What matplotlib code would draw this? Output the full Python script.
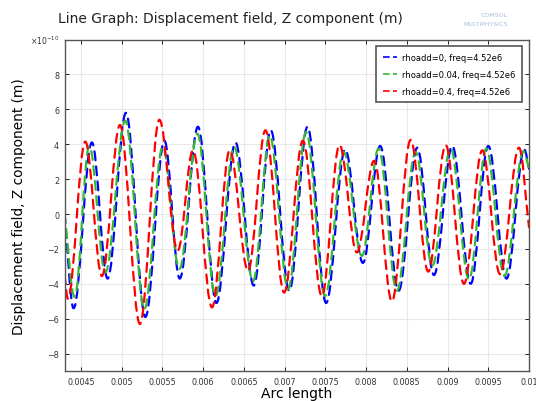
import numpy as np
import matplotlib.pyplot as plt
from matplotlib.path import Path
from matplotlib.patches import PathPatch
from matplotlib.lines import Line2D
from matplotlib.ticker import FuncFormatter

# extrema (arc length, displacement in units of 1e-10 m)
# first/last entries are where the curve meets the axes edges
x_blue = [0.0043, 0.004410, 0.004635, 0.004828, 0.005053, 0.005291, 0.005525, 0.005713,
          0.005937, 0.006163, 0.006397, 0.006622, 0.006830, 0.007058, 0.007281, 0.007510,
          0.007743, 0.007961, 0.008173, 0.008399, 0.008628, 0.008833, 0.009058, 0.009284,
          0.009500, 0.009724, 0.009942, 0.0100]
y_blue = [0.0, -5.4, 4.1, -3.7, 5.8, -5.9, 4.2, -3.7,
          5.0, -5.1, 4.1, -4.1, 4.8, -4.4, 5.0, -5.1,
          3.7, -2.8, 3.9, -4.4, 3.8, -3.5, 3.9, -4.0,
          3.9, -3.7, 3.7, 2.6]

x_green = [0.0043, 0.004423, 0.004603, 0.004800, 0.005045, 0.005279, 0.005504, 0.005709,
           0.005930, 0.006151, 0.006380, 0.006613, 0.006818, 0.007043, 0.007264, 0.007498,
           0.007724, 0.007948, 0.008154, 0.008378, 0.008608, 0.008812, 0.009038, 0.009263,
           0.009475, 0.009699, 0.009930, 0.0100]
y_green = [0.0, -4.75, 3.9, -3.35, 5.35, -5.45, 3.85, -3.15,
           4.6, -4.7, 3.85, -3.85, 4.5, -4.3, 4.7, -4.7,
           3.55, -2.4, 3.75, -4.4, 3.55, -2.95, 3.75, -3.75,
           3.75, -3.55, 3.6, 2.6]

x_red = [0.0043, 0.004340, 0.004554, 0.004758, 0.004979, 0.005225, 0.005463, 0.005688,
         0.005876, 0.006109, 0.006327, 0.006552, 0.006765, 0.006994, 0.007224, 0.007457,
         0.007674, 0.007887, 0.008099, 0.008317, 0.008547, 0.008763, 0.008977, 0.009201,
         0.009426, 0.009644, 0.009877, 0.0100]
y_red = [-3.5, -4.85, 4.15, -3.55, 5.1, -6.3, 5.4, -2.1,
         3.65, -5.35, 3.65, -3.25, 4.8, -4.5, 4.2, -4.7,
         3.95, -2.2, 3.05, -5.0, 4.25, -3.3, 3.95, -4.0,
         3.65, -3.45, 3.8, -0.76]

labels = ["rhoadd=0, freq=4.52e6", "rhoadd=0.04, freq=4.52e6", "rhoadd=0.4, freq=4.52e6"]
colors = ["#0000ff", "#35b835", "#ff0000"]
x_ticks = [0.0045, 0.005, 0.0055, 0.006, 0.0065, 0.007, 0.0075, 0.008, 0.0085, 0.009, 0.0095, 0.01]
y_ticks = [-8, -6, -4, -2, 0, 2, 4, 6, 8]


def wave_path(xs, ys):
    # smooth curve through the extrema, flat tangent at each extremum
    k = 1 - 2 / np.pi
    verts = [(xs[0], ys[0])]
    codes = [Path.MOVETO]
    n = len(xs)
    for i in range(n - 1):
        x0, y0, x1, y1 = xs[i], ys[i], xs[i + 1], ys[i + 1]
        dx, dy = x1 - x0, y1 - y0
        c1 = (x0 + k * dx, y0) if i > 0 else (x0 + k * dx, y0 + k * dy)
        c2 = (x1 - k * dx, y1) if i + 1 < n - 1 else (x1 - k * dx, y1 - k * dy)
        verts += [c1, c2, (x1, y1)]
        codes += [Path.CURVE4] * 3
    return Path(verts, codes)


fig = plt.figure(figsize=(5.36, 4.02), dpi=100)
ax = fig.add_axes([0.1205, 0.0746, 0.8665, 0.8245])

for xs, ys, c in zip([x_blue, x_green, x_red], [y_blue, y_green, y_red], colors):
    ax.add_patch(PathPatch(wave_path(xs, ys), fill=False, edgecolor=c, lw=1.6,
                           linestyle=(0, (4, 2.8)), capstyle="round", clip_on=True))

ax.set_xlim(0.0043, 0.01)
ax.set_ylim(-9, 10)
ax.set_xticks(x_ticks)
ax.set_yticks(y_ticks)
ax.xaxis.set_major_formatter(FuncFormatter(lambda v, p: "%g" % v))
ax.tick_params(direction="in", top=True, right=True, labelsize=5.8,
               labelcolor="#333333", length=3, width=0.6, pad=4)
ax.grid(True, color="#e8e8e8", lw=0.8)
ax.set_axisbelow(True)
for s in ax.spines.values():
    s.set_color("#555555")
    s.set_linewidth(1.0)

ax.set_xlabel("Arc length", fontsize=10, labelpad=0)
ax.set_ylabel("Displacement field, Z component (m)", fontsize=9.8, labelpad=15)
ax.text(-0.075, 1.0, r"$\times10^{-10}$", transform=ax.transAxes, fontsize=5.5,
        color="#333333", ha="left", va="center")

fig.text(0.108, 0.953, "Line Graph: Displacement field, Z component (m)",
         fontsize=10, ha="left", va="center", color="#222222")
fig.text(0.948, 0.962, "COMSOL", fontsize=4.5, ha="right", va="center", color="#a8c0dc")
fig.text(0.948, 0.94, "MULTIPHYSICS", fontsize=4.5, ha="right", va="center", color="#a8c0dc")

handles = [Line2D([], [], color=c, lw=1.2, linestyle=(0, (4, 2))) for c in colors]
leg = ax.legend(handles, labels, loc="upper right", fontsize=6.0, handlelength=1.7,
                fancybox=False, framealpha=1, borderaxespad=0.8, labelspacing=0.95,
                handletextpad=0.6, borderpad=0.8, shadow=False)
leg.get_frame().set_edgecolor("#555555")
leg.get_frame().set_linewidth(1.2)

fig.savefig("out.png", dpi=100)
